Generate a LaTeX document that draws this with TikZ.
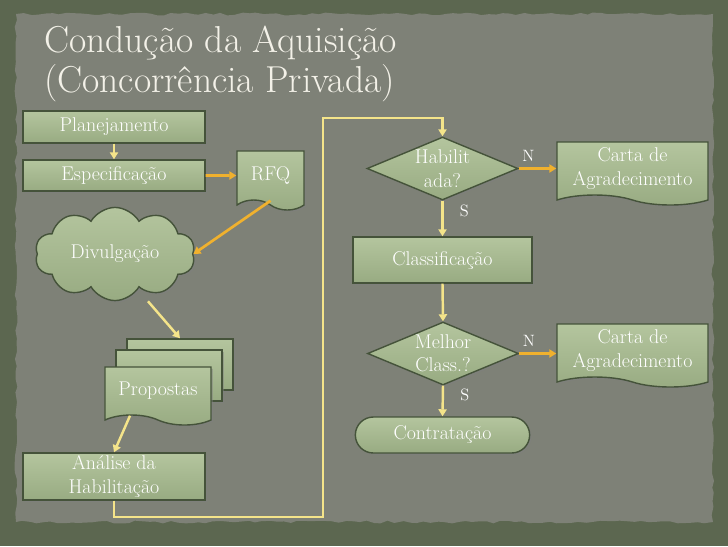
\documentclass[tikz,border=0pt]{standalone}
\usepackage{tikz}
\usetikzlibrary{shapes.geometric,shapes.symbols,shapes.misc,shadows,arrows.meta,decorations.pathmorphing}

\definecolor{framegreen}{HTML}{5C6750}
\definecolor{panelgrey}{HTML}{7E8177}
\definecolor{boxtop}{HTML}{B4C59E}
\definecolor{boxbot}{HTML}{98AB82}
\definecolor{boxline}{HTML}{45533A}
\definecolor{arrowO}{HTML}{F0B12E}
\definecolor{arrowY}{HTML}{F4E48A}
\definecolor{titlecol}{HTML}{F3F1E8}

\tikzset{
    >={Triangle[length=6pt,width=7pt]},
    box/.style={draw=boxline, line width=1.2pt, top color=boxtop, bottom color=boxbot,
        text=white, font=\fontsize{17}{20}\selectfont, align=center, inner sep=2pt,
        drop shadow={opacity=0.45, shadow xshift=1.5pt, shadow yshift=-1.5pt}},
    procbox/.style={box, rectangle, minimum width=5.46cm},
    docbox/.style={box, tape, tape bend top=none, tape bend bottom=out and in, tape bend height=0.3cm},
    sheetbox/.style={box, rectangle, minimum width=3.18cm, minimum height=1.53cm},
    cloudbox/.style={box, cloud, cloud puffs=10, cloud puff arc=120, aspect=1.8},
    decision/.style={box, diamond, aspect=2.4, inner xsep=-10pt, inner ysep=-4pt,
        minimum width=4.53cm, minimum height=1.89cm},
    termbox/.style={box, rounded rectangle, minimum width=5.37cm, minimum height=1.08cm},
    flowO/.style={->, draw=arrowO, line width=2.3pt},
    flowY/.style={->, draw=arrowY, line width=2.1pt},
    lbl/.style={text=white, font=\fontsize{14}{16}\selectfont, inner sep=1pt}
}

\begin{document}
\begin{tikzpicture}[x=0.03cm, y=-0.03cm]
    \useasboundingbox (0,0) rectangle (728,546);

    % Background
    \fill[framegreen] (0,0) rectangle (728,546);
    \fill[panelgrey, decorate, decoration={random steps, segment length=6pt, amplitude=1.2pt}]
        (16,14) rectangle (713,522);

    % Title
    \node[anchor=base west, text=titlecol, font=\fontsize{32}{36}\selectfont, inner sep=0pt] (title1) at (44,52) {Condução da Aquisição};
    \node[anchor=base west, text=titlecol, font=\fontsize{32}{36}\selectfont, inner sep=0pt] (title2) at (44,92) {(Concorrência Privada)};

    % Left column
    \node[procbox, minimum height=0.96cm] (plan) at (114,127) {Planejamento};
    \node[procbox, minimum height=0.93cm] (espec) at (114,175.5) {Especificação};
    \node[docbox, minimum width=2.01cm, minimum height=1.77cm] (rfq) at (270.5,175.5) {RFQ};
    \node[cloudbox, minimum width=4.8cm, minimum height=2.64cm] (divul) at (115,254) {Divulgação};

    % Propostas (stacked documents)
    \node[sheetbox] (propC) at (180,364.5) {};
    \node[sheetbox] (propB) at (169,375.5) {};
    \node[docbox, minimum width=3.18cm, minimum height=1.74cm] (prop) at (158,391) {Propostas};

    \node[procbox, minimum height=1.41cm] (anal) at (114,476.5) {Análise da\\Habilitação};

    % Right column
    \node[decision] (habil) at (442.5,168.5) {Habilit\\ada?};
    \node[docbox, minimum width=4.53cm, minimum height=1.89cm] (carta1) at (632.5,168.5) {Carta de\\Agradecimento};
    \node[procbox, minimum width=5.37cm, minimum height=1.38cm] (classif) at (442.5,260) {Classificação};
    \node[decision] (melhor) at (443,353.5) {Melhor\\Class.?};
    \node[docbox, minimum width=4.53cm, minimum height=1.89cm] (carta2) at (632.5,350.5) {Carta de\\Agradecimento};
    \node[termbox] (contr) at (442.5,435) {Contratação};

    % Connectors
    \draw[flowY] (plan) -- (espec);
    \draw[flowO] (espec) -- (rfq);
    \draw[flowO] (rfq.south) -- (divul.east);
    \draw[flowY] ([xshift=0.99cm]divul.south) -- (propC.north);
    \draw[flowY] ([xshift=-0.84cm]prop.south) -- (anal.north);

    % Loop to the right column
    \coordinate (loopB) at (323,517);
    \coordinate (loopT) at (323,118);
    \draw[flowY] (anal.south) |- (loopB) -- (loopT) -| (habil.north);

    \draw[flowO] (habil.east) -- (habil.east -| carta1.west)
        node[lbl, pos=0, anchor=south west, xshift=1pt, yshift=4pt] (n1) {N};
    \draw[flowY] (habil.south) -- (classif.north)
        node[lbl, pos=0.3, right=0.45cm] (s1) {S};
    \draw[flowY] (classif.south) -- (melhor.north);
    \draw[flowO] (melhor.east) -- (melhor.east -| carta2.west)
        node[lbl, pos=0, anchor=south west, xshift=1pt, yshift=4pt] (n2) {N};
    \draw[flowY] (melhor.south) -- (contr.north)
        node[lbl, pos=0.3, right=0.45cm] (s2) {S};
\end{tikzpicture}
\end{document}
